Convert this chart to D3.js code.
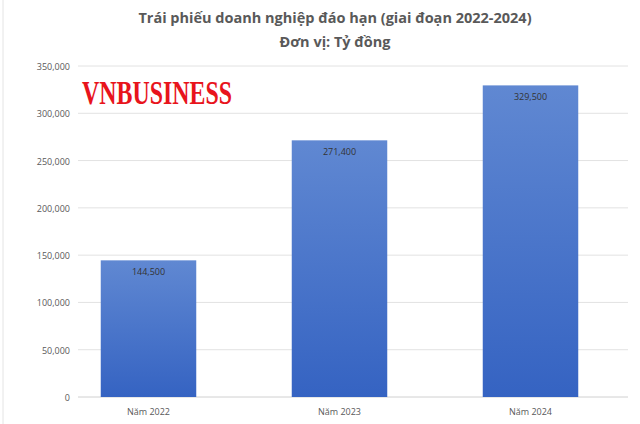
<!DOCTYPE html>
<html>
<head>
<meta charset="UTF-8">
<script src="https://d3js.org/d3.v7.min.js"></script>
<style>body{margin:0;background:#fff}</style>
</head>
<body>
<svg id="c" width="640" height="424"></svg>
<script>
const categories = ["Năm 2022", "Năm 2023", "Năm 2024"];
const values = [144500, 271400, 329500];
const yTicks = [0, 50000, 100000, 150000, 200000, 250000, 300000, 350000];

const svg = d3.select("#c");
const x = d3.scaleBand().domain(categories).range([53, 626]).paddingInner(0.5).paddingOuter(0.25);
const y = d3.scaleLinear().domain([0, 350000]).range([397, 66]);
const fmt = d3.format(",");

const grad = svg.append("defs").append("linearGradient").attr("id", "g")
  .attr("x1", 0).attr("y1", 0).attr("x2", 0).attr("y2", 1);
grad.append("stop").attr("offset", "0%").attr("stop-color", "#6088d2");
grad.append("stop").attr("offset", "100%").attr("stop-color", "#3563c2");

svg.append("line").attr("x1", 3).attr("x2", 3).attr("y1", 0).attr("y2", 424).attr("stroke", "#e4e4e4");

// gridlines
svg.selectAll(".grid").data(yTicks).enter().append("line")
  .attr("x1", 78).attr("x2", 628)
  .attr("y1", d => y(d)).attr("y2", d => y(d))
  .attr("stroke", d => d === 0 ? "#d0d0d0" : "#e2e2e2");

svg.selectAll(".yl").data(yTicks).enter().append("text")
  .attr("x", 70).attr("y", d => y(d) + 4)
  .attr("text-anchor", "end").attr("font-family", "Open Sans, sans-serif")
  .attr("font-size", 9).attr("fill", "#595959").text(d => fmt(d));

svg.selectAll(".bar").data(values).enter().append("rect")
  .attr("x", (d, i) => x(categories[i])).attr("width", x.bandwidth())
  .attr("y", d => y(d)).attr("height", d => y(0) - y(d))
  .attr("fill", "url(#g)");

svg.selectAll(".vl").data(values).enter().append("text")
  .attr("x", (d, i) => x(categories[i]) + x.bandwidth() / 2).attr("y", d => y(d) + 15)
  .attr("text-anchor", "middle").attr("font-family", "Open Sans, sans-serif")
  .attr("font-size", 9).attr("fill", "#333").text(d => fmt(d));

svg.selectAll(".xl").data(categories).enter().append("text")
  .attr("x", d => x(d) + x.bandwidth() / 2).attr("y", 415)
  .attr("text-anchor", "middle").attr("font-family", "Open Sans, sans-serif")
  .attr("font-size", 9).attr("fill", "#595959").text(d => d);

svg.append("text").attr("x", 335).attr("y", 23).attr("text-anchor", "middle")
  .attr("font-family", "Open Sans, sans-serif").attr("font-weight", "bold")
  .attr("font-size", 14.5).attr("fill", "#595959")
  .text("Trái phiếu doanh nghiệp đáo hạn (giai đoạn 2022-2024)");
svg.append("text").attr("x", 335).attr("y", 47).attr("text-anchor", "middle")
  .attr("font-family", "Open Sans, sans-serif").attr("font-weight", "bold")
  .attr("font-size", 14.5).attr("fill", "#595959").text("Đơn vị: Tỷ đồng");

svg.append("text").attr("x", 82).attr("y", 104)
  .attr("font-family", "Liberation Serif, serif").attr("font-size", 33).attr("font-weight", "bold")
  .attr("textLength", 150).attr("lengthAdjust", "spacingAndGlyphs")
  .attr("fill", "#e8141c").text("VNBUSINESS");
</script>
</body>
</html>
